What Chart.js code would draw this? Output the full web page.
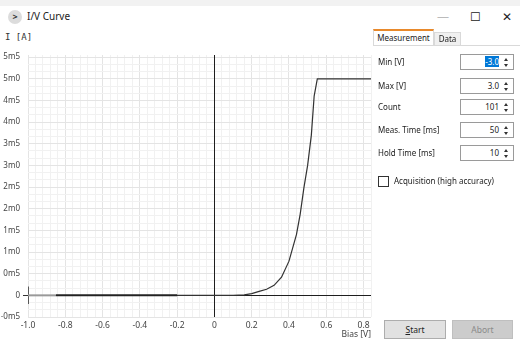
<!DOCTYPE html>
<html>
<head>
<meta charset="utf-8">
<script src="https://cdn.jsdelivr.net/npm/chart.js@4"></script>
<style>
body { margin: 0; width: 520px; height: 340px; background: #fff; position: relative; overflow: hidden;
       font-family: "Noto Sans", "Open Sans", sans-serif; color: #222; }
.abs { position: absolute; }
#topband { left: 0; top: 0; width: 520px; height: 6px; background: #f2f2f2; }
#icon { left: 8px; top: 10px; width: 14px; height: 14px; border-radius: 7px; background: #dcdcdc;
        font-size: 9px; line-height: 14px; text-align: center; color: #333; font-weight: bold; }
#wtitle { left: 27px; top: 9px; font-size: 10px; color: #222; }
.wctl { top: 8px; font-size: 12px; color: #222; }
#chartBox { left: 0; top: 46px; width: 374px; height: 294px; }
#yTitle { left: 5px; top: 32px; font-family: "DejaVu Sans Mono", monospace; font-size: 9px; color: #333; }
.tab { font-size: 8px; text-align: center; box-sizing: border-box; }
#tab1 { left: 373px; top: 29px; width: 61px; height: 17px; background: #fff; border: 1px solid #d9d9d9;
        border-top: 2px solid #e8892b; border-bottom: none; line-height: 13px; }
#tab2 { left: 434px; top: 32px; width: 27px; height: 14px; background: #f0f0f0; border: 1px solid #d9d9d9;
        border-bottom: none; line-height: 12px; }
#pane { left: 373px; top: 45px; width: 147px; height: 1px; background: #d9d9d9; }
.lbl { left: 378px; font-size: 8px; color: #222; }
.inp { left: 460px; width: 54px; height: 16px; box-sizing: border-box; border: 1px solid #9a9a9a; background: #fff;
       font-size: 8px; line-height: 14px; text-align: right; padding-right: 14px; }
.sel { background: #0078d7; color: #fff; }
.spin { position: absolute; right: 4px; top: 3px; width: 5px; height: 9px; }
.spin:before, .spin:after { content: ""; position: absolute; left: 0; border-left: 2.5px solid transparent; border-right: 2.5px solid transparent; }
.spin:before { top: 0; border-bottom: 3px solid #333; }
.spin:after { bottom: 0; border-top: 3px solid #333; }
#chk { left: 378px; top: 176px; width: 11px; height: 11px; box-sizing: border-box; border: 1px solid #333; background: #fff; }
#chkLbl { left: 394px; top: 175px; font-size: 8px; }
.btn { top: 320px; height: 19px; box-sizing: border-box; font-size: 8.5px; line-height: 17px; text-align: center; }
#start { left: 384px; width: 62px; background: #e1e1e1; border: 1px solid #adadad; color: #222; }
#abort { left: 452px; width: 61px; background: #cccccc; border: 1px solid #bfbfbf; color: #8a8a8a; }
</style>
</head>
<body>
<div class="abs" id="topband"></div>
<div class="abs" id="icon">&gt;</div>
<div class="abs" id="wtitle">I/V Curve</div>
<div class="abs wctl" style="left:437px;color:#bbb">—</div>
<div class="abs wctl" style="left:470px">☐</div>
<div class="abs wctl" style="left:502px">✕</div>

<div class="abs" id="yTitle">I [A]</div>
<div class="abs" id="chartBox"><canvas id="ivChart"></canvas></div>

<div class="abs tab" id="tab1">Measurement</div>
<div class="abs tab" id="tab2">Data</div>
<div class="abs" id="pane"></div>

<div class="abs lbl" style="top:56px">Min [V]</div>
<div class="abs inp" style="top:54px"><span class="sel">-3.0</span><span class="spin"></span></div>
<div class="abs lbl" style="top:80px">Max [V]</div>
<div class="abs inp" style="top:78px">3.0<span class="spin"></span></div>
<div class="abs lbl" style="top:101px">Count</div>
<div class="abs inp" style="top:99px">101<span class="spin"></span></div>
<div class="abs lbl" style="top:124px">Meas. Time [ms]</div>
<div class="abs inp" style="top:122px">50<span class="spin"></span></div>
<div class="abs lbl" style="top:147px">Hold Time [ms]</div>
<div class="abs inp" style="top:145px">10<span class="spin"></span></div>

<div class="abs" id="chk"></div>
<div class="abs" id="chkLbl">Acquisition (high accuracy)</div>

<div class="abs btn" id="start"><u>S</u>tart</div>
<div class="abs btn" id="abort">Abort</div>

<script>
// Measured I/V points (bias in V, current in mA)
const biasV = [-1.0, -0.85, -0.2, 0.1, 0.16, 0.2, 0.24, 0.28, 0.32, 0.36, 0.40, 0.44, 0.46, 0.48, 0.50, 0.52, 0.535, 0.552, 0.84];
const currentMA = [0, 0, 0, 0, 0.01, 0.04, 0.09, 0.14, 0.23, 0.42, 0.79, 1.4, 1.87, 2.48, 3.0, 3.7, 4.6, 5.0, 5.0];

// Start marker at the first bias point
const markerV = [-1.0, -1.0];
const markerMA = [0.2, -0.2];

// Axis ticks
const xTicks = [-1.0, -0.8, -0.6, -0.4, -0.2, 0, 0.2, 0.4, 0.6, 0.8];
const yTicks = [-0.5, 0, 0.5, 1.0, 1.5, 2.0, 2.5, 3.0, 3.5, 4.0, 4.5, 5.0, 5.5];

// minor grid positions
const xMinor = [];
for (let i = -25; i <= 21; i++) xMinor.push(i * 0.04);
const yMinor = [];
for (let i = -3; i <= 33; i++) yMinor.push(i / 6);

const isTick = (list, v) => list.some(t => Math.abs(t - v) < 1e-6);
const isZero = c => c.tick && Math.abs(c.tick.value) < 1e-9;

// 5.5 mA -> "5m5", -0.5 -> "-0m5", 0 -> "0"
function fmtMilli(v) {
    if (Math.abs(v) < 1e-9) return "0";
    const sign = v < 0 ? "-" : "";
    const a = Math.abs(v);
    const whole = Math.floor(a + 1e-9);
    const tenth = Math.round((a - whole) * 10);
    return sign + whole + "m" + tenth;
}

function gridColor(list) {
    return c => {
        if (!c.tick) return "rgba(0,0,0,0)";
        return isTick(list, c.tick.value) ? "#e4e4e4" : "#f1f1f1";
    };
}

// zero axes drawn on top of the grid, under the curve
const zeroAxes = {
    id: "zeroAxes",
    beforeDatasetsDraw(chart) {
        const { ctx, chartArea: a, scales } = chart;
        const x0 = Math.round(scales.x.getPixelForValue(0)) + 0.5;
        const y0 = Math.round(scales.y.getPixelForValue(0)) + 0.5;
        ctx.save();
        ctx.strokeStyle = "#1e1e1e";
        ctx.lineWidth = 1;
        ctx.beginPath();
        ctx.moveTo(x0, a.top);
        ctx.lineTo(x0, a.bottom);
        ctx.moveTo(a.left, y0);
        ctx.lineTo(a.right, y0);
        ctx.stroke();
        ctx.restore();
    }
};

// segment start bias decides the look of the reverse-bias part
const segStart = s => biasV[s.p0DataIndex];

const ctx = document.getElementById("ivChart");
new Chart(ctx, {
    type: "scatter",
    data: {
        datasets: [{
            data: biasV.map((v, i) => ({ x: v, y: currentMA[i] })),
            showLine: true,
            pointRadius: 0,
            borderColor: "#333",
            borderWidth: 1.2,
            segment: {
                borderColor: s => segStart(s) < -0.9 ? "#9a9a9a" : (segStart(s) < -0.5 ? "#222" : "#333"),
                borderWidth: s => segStart(s) < -0.5 ? 2 : 1.2
            }
        }, {
            data: markerV.map((v, i) => ({ x: v, y: markerMA[i] })),
            showLine: true,
            pointRadius: 0,
            borderColor: "#444",
            borderWidth: 1
        }]
    },
    options: {
        animation: false,
        responsive: true,
        maintainAspectRatio: false,
        layout: { padding: { top: 9, right: 2, left: 0, bottom: 0 } },
        plugins: { legend: { display: false }, tooltip: { enabled: false } },
        scales: {
            x: {
                type: "linear",
                min: -1.0,
                max: 0.84,
                afterBuildTicks: s => { s.ticks = xMinor.map(v => ({ value: v })); },
                afterFit: s => { s.height = 23; },
                border: { display: false },
                grid: { drawTicks: false, color: gridColor(xTicks) },
                ticks: {
                    autoSkip: false, maxRotation: 0, padding: 3,
                    color: "#444", font: { family: "Noto Sans", size: 8.5 },
                    callback: v => isTick(xTicks, v) ? (Math.abs(v) < 1e-9 ? "0" : v.toFixed(1)) : ""
                },
                title: { display: true, text: "Bias [V]", align: "end", color: "#444",
                         font: { family: "Noto Sans", size: 8.5 }, padding: { top: 0, bottom: 0 } }
            },
            y: {
                type: "linear",
                min: -0.5,
                max: 5.55,
                afterBuildTicks: s => { s.ticks = yMinor.map(v => ({ value: v })); },
                afterFit: s => { s.width = 28; },
                border: { display: false },
                grid: {
                    drawTicks: true, tickLength: 5,
                    color: gridColor(yTicks),
                    tickColor: c => isZero(c) ? "#333" : "rgba(0,0,0,0)"
                },
                ticks: {
                    autoSkip: false, padding: 3,
                    color: "#444", font: { family: "Noto Sans", size: 8 },
                    callback: v => isTick(yTicks, v) ? fmtMilli(v) : ""
                }
            }
        }
    },
    plugins: [zeroAxes]
});
</script>
</body>
</html>
